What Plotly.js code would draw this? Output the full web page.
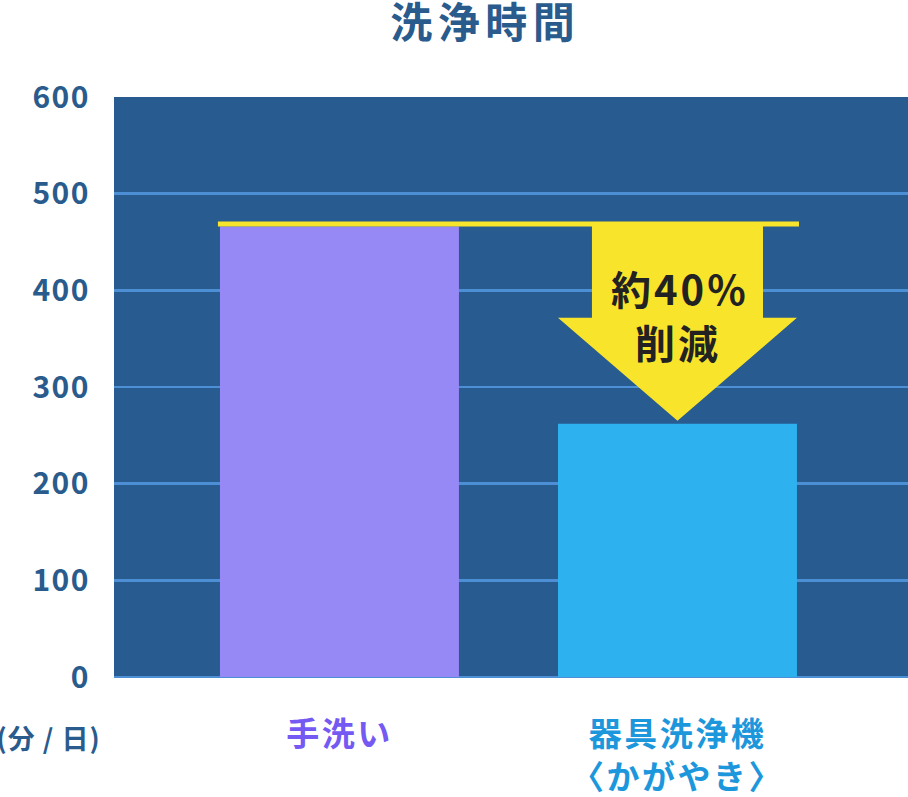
<!DOCTYPE html>
<html>
<head>
<meta charset="utf-8">
<script src="https://cdn.plot.ly/plotly-3.0.1.min.js"></script>
<style>
  html, body { margin: 0; padding: 0; background: #ffffff; }
  #chart { width: 908px; height: 797px; }
  #chart .gtitle { letter-spacing: 5.5px; }
  #chart .xtick text { letter-spacing: 2.5px; }
  #chart .ytick text { letter-spacing: 1.5px; }
  #chart .annotation[data-index="0"] text,
  #chart .annotation[data-index="1"] text { letter-spacing: 3px; }
  #chart .annotation[data-index="2"] text { letter-spacing: 1px; }
</style>
</head>
<body>
<div id="chart"></div>
<script>
// ---- data ----
const categories = ['手洗い', '器具洗浄機<br>〈かがやき〉'];
const categoryColors = ['#7459f2', '#1d97dc'];
const minutes = [466, 262];
const barColors = ['#9688f5', '#2eb1ef'];
const reductionLines = ['約40%', '削減'];
const yTicks = [0, 100, 200, 300, 400, 500, 600];
const chartTitle = '洗浄時間';
const unitLabel = '(分 / 日)';

// ---- style constants ----
const FONT = '"Noto Sans CJK JP", "Noto Sans", sans-serif';
const NAVY = '#2a5b8d';
const YELLOW = '#f9e42c';
const barWidth = 0.707;
const shaftWidth = 0.506;
const headFrac = 0.53;   // head base position between tip and top
const lineOffset = 2.5;  // yellow line sits just above the first bar
const tipOffset = 3;     // arrow tip just above second bar

const xs = categories.map((_, i) => i);
const arrowTop = minutes[0];
const arrowTip = minutes[1] + tipOffset;
const headBase = arrowTip + (arrowTop - arrowTip) * headFrac;
const cx = xs[1];
const arrowX = [cx - shaftWidth / 2, cx + shaftWidth / 2, cx + shaftWidth / 2, cx + barWidth / 2, cx, cx - barWidth / 2, cx - shaftWidth / 2, cx - shaftWidth / 2];
const arrowY = [arrowTop + lineOffset, arrowTop + lineOffset, headBase, headBase, arrowTip, headBase, headBase, arrowTop + lineOffset];

const traces = [
  {
    type: 'bar', x: xs, y: minutes, width: barWidth,
    marker: { color: barColors, line: { width: 0 } },
    hoverinfo: 'skip'
  },
  {
    type: 'scatter', mode: 'lines', x: arrowX, y: arrowY,
    fill: 'toself', fillcolor: YELLOW, line: { width: 0, color: YELLOW },
    hoverinfo: 'skip'
  },
  {
    type: 'scatter', mode: 'lines',
    x: [xs[0] - barWidth / 2 - 0.006, xs[1] + barWidth / 2 + 0.006],
    y: [arrowTop + lineOffset, arrowTop + lineOffset],
    line: { color: YELLOW, width: 5 },
    hoverinfo: 'skip'
  }
];

const layout = {
  width: 908, height: 797,
  margin: { l: 114, r: 0, t: 97, b: 120, pad: 0 },
  paper_bgcolor: '#ffffff',
  plot_bgcolor: '#285b8f',
  showlegend: false,
  font: { family: FONT, color: NAVY },
  title: {
    text: chartTitle,
    font: { family: FONT, size: 42, weight: 'bold', color: NAVY },
    xref: 'container', x: 0.5345, xanchor: 'center',
    yref: 'container', y: 0.971, yanchor: 'middle'
  },
  xaxis: {
    range: [-0.667, 1.682],
    tickvals: xs,
    ticktext: categories.map((c, i) => '<span style="color:' + categoryColors[i] + '">' + c + '</span>'),
    tickfont: { family: FONT, size: 33, weight: 'bold' },
    ticks: '', showgrid: false, zeroline: false, showline: false,
    ticklabelstandoff: 35,
    fixedrange: true
  },
  yaxis: {
    range: [0, 600],
    tickvals: yTicks,
    ticktext: yTicks.map(String),
    tickfont: { family: FONT, size: 30, weight: 'bold', color: NAVY },
    ticks: '', showline: false,
    gridcolor: '#4d8fd5', gridwidth: 2.5,
    zeroline: true, zerolinecolor: '#4d8fd5', zerolinewidth: 2.5,
    ticklabelstandoff: 23,
    fixedrange: true
  },
  annotations: [
    {
      text: reductionLines[0], x: cx, y: 402, xref: 'x', yref: 'y', xshift: 3,
      showarrow: false, font: { family: FONT, size: 40, weight: 'bold', color: '#222222' }
    },
    {
      text: reductionLines[1], x: cx, y: 347, xref: 'x', yref: 'y', xshift: 1,
      showarrow: false, font: { family: FONT, size: 40, weight: 'bold', color: '#222222' }
    },
    {
      text: unitLabel, xref: 'paper', yref: 'paper',
      x: -0.1455, xanchor: 'left', y: -0.105, yanchor: 'middle',
      showarrow: false, font: { family: FONT, size: 27, weight: 'bold', color: NAVY }
    }
  ]
};

Plotly.newPlot('chart', traces, layout, { displayModeBar: false, staticPlot: true });
</script>
</body>
</html>
